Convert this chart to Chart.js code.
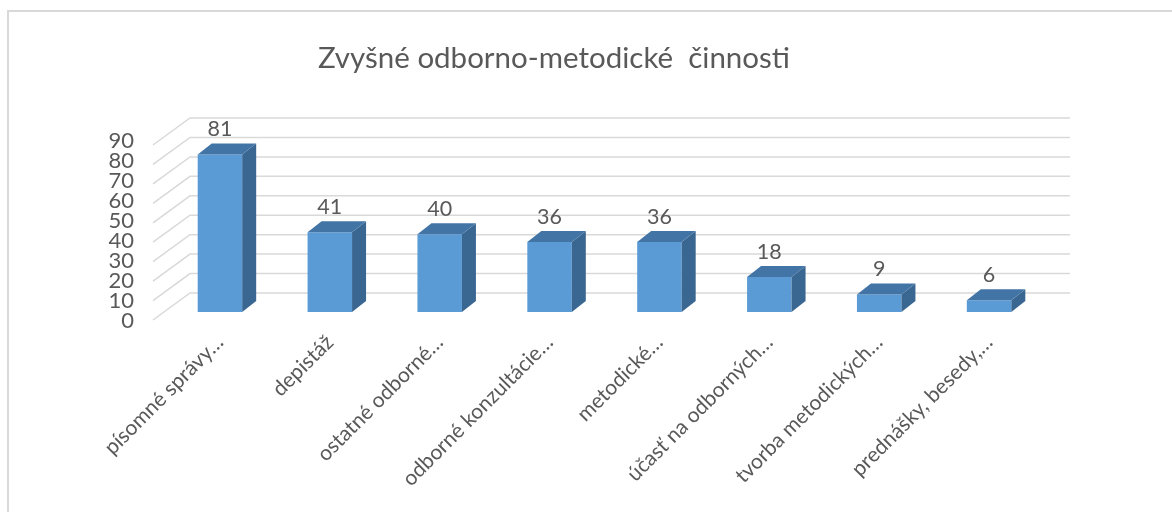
<!DOCTYPE html>
<html>
<head>
<meta charset="utf-8">
<script src="https://cdn.jsdelivr.net/npm/chart.js@4.4.1/dist/chart.umd.min.js"></script>
<style>
  html, body { margin: 0; padding: 0; background: #ffffff; }
  #wrap { position: relative; width: 1172px; height: 512px; }
  #frame { position: absolute; left: 7px; top: 10px; width: 1200px; height: 600px; border: 2px solid #D9D9D9; box-sizing: border-box; }
  canvas { position: absolute; left: 0; top: 0; }
</style>
</head>
<body>
<div id="wrap">
  <div id="frame"></div>
  <canvas id="c" width="1172" height="512"></canvas>
</div>
<script>
const chartTitle = 'Zvyšné odborno-metodické  činnosti';
const categories = [
  'písomné správy…',
  'depistáž',
  'ostatné odborné…',
  'odborné konzultácie…',
  'metodické…',
  'účasť na odborných…',
  'tvorba metodických…',
  'prednášky, besedy,…'
];
const values = [81, 41, 40, 36, 36, 18, 9, 6];
const yTicks = [0, 10, 20, 30, 40, 50, 60, 70, 80, 90];

const FONT = 'Lato, "Open Sans", sans-serif';
const TEXT = '#595959';
const FRONT = '#5B9BD5';
const TOP = '#4374A6';
const SIDE = '#3A6791';
const GRID = '#D9D9D9';
const DX = 14, DY = -11;       // bar depth offset
const BACK_DX = 25, BACK_DY = -19;   // back wall offset
const FRONT_DX = -12, FRONT_DY = 8;  // front floor edge offset

const threeD = {
  id: 'threeD',
  beforeDatasetsDraw(chart) {
    const ctx = chart.ctx;
    const y = chart.scales.y;
    const area = chart.chartArea;
    ctx.save();
    // title
    ctx.fillStyle = TEXT;
    ctx.font = '29.5px ' + FONT;
    ctx.textAlign = 'center';
    ctx.textBaseline = 'alphabetic';
    ctx.fillText(chartTitle, 554, 68);
    // back wall + left wall grid lines
    ctx.strokeStyle = GRID;
    ctx.lineWidth = 1.5;
    yTicks.forEach(v => {
      const p = y.getPixelForValue(v);
      const bx = area.left + BACK_DX, by = p + BACK_DY;
      const fx = area.left + FRONT_DX, fy = p + FRONT_DY;
      ctx.beginPath();
      ctx.moveTo(fx, fy);
      ctx.lineTo(bx, by);
      ctx.lineTo(area.right + BACK_DX + 1, by);
      ctx.stroke();
    });
    // y labels on the front plane
    ctx.fillStyle = TEXT;
    ctx.font = '22px ' + FONT;
    ctx.textAlign = 'right';
    ctx.textBaseline = 'middle';
    yTicks.forEach(v => {
      const p = y.getPixelForValue(v);
      ctx.fillText(String(v), 134, p + FRONT_DY + 1 - v * 0.06);
    });
    ctx.restore();
  },
  afterDatasetsDraw(chart) {
    const ctx = chart.ctx;
    const meta = chart.getDatasetMeta(0);
    ctx.save();
    meta.data.forEach((bar, i) => {
      const p = bar.getProps(['x', 'y', 'base', 'width'], true);
      const l = p.x - p.width / 2, r = p.x + p.width / 2;
      const t = p.y, b = p.base;
      ctx.fillStyle = SIDE;
      ctx.beginPath();
      ctx.moveTo(r, t); ctx.lineTo(r + DX, t + DY); ctx.lineTo(r + DX, b + DY); ctx.lineTo(r, b);
      ctx.closePath(); ctx.fill();
      ctx.fillStyle = TOP;
      ctx.beginPath();
      ctx.moveTo(l, t); ctx.lineTo(l + DX, t + DY); ctx.lineTo(r + DX, t + DY); ctx.lineTo(r, t);
      ctx.closePath(); ctx.fill();
      ctx.fillStyle = TEXT;
      ctx.font = '21.5px ' + FONT;
      ctx.textAlign = 'center';
      ctx.textBaseline = 'middle';
      ctx.fillText(String(values[i]), p.x, t + DY - 14);
    });
    ctx.restore();
  }
};

new Chart(document.getElementById('c'), {
  type: 'bar',
  data: {
    labels: categories,
    datasets: [{
      data: values,
      backgroundColor: FRONT,
      borderWidth: 0,
      barPercentage: 0.81,
      categoryPercentage: 0.5
    }]
  },
  options: {
    responsive: false,
    animation: false,
    devicePixelRatio: 1,
    layout: { padding: { left: 165, right: 128, top: 137, bottom: 0 } },
    plugins: {
      legend: { display: false },
      tooltip: { enabled: false },
      title: { display: false }
    },
    scales: {
      x: {
        grid: { display: false, drawTicks: false },
        border: { display: false },
        ticks: {
          color: TEXT,
          font: { family: FONT, size: 21 },
          minRotation: 45,
          maxRotation: 45,
          autoSkip: false,
          padding: 18
        },
        afterFit(scale) { scale.height = 200; }
      },
      y: {
        display: false,
        min: 0,
        max: 90
      }
    }
  },
  plugins: [threeD]
});
</script>
</body>
</html>
